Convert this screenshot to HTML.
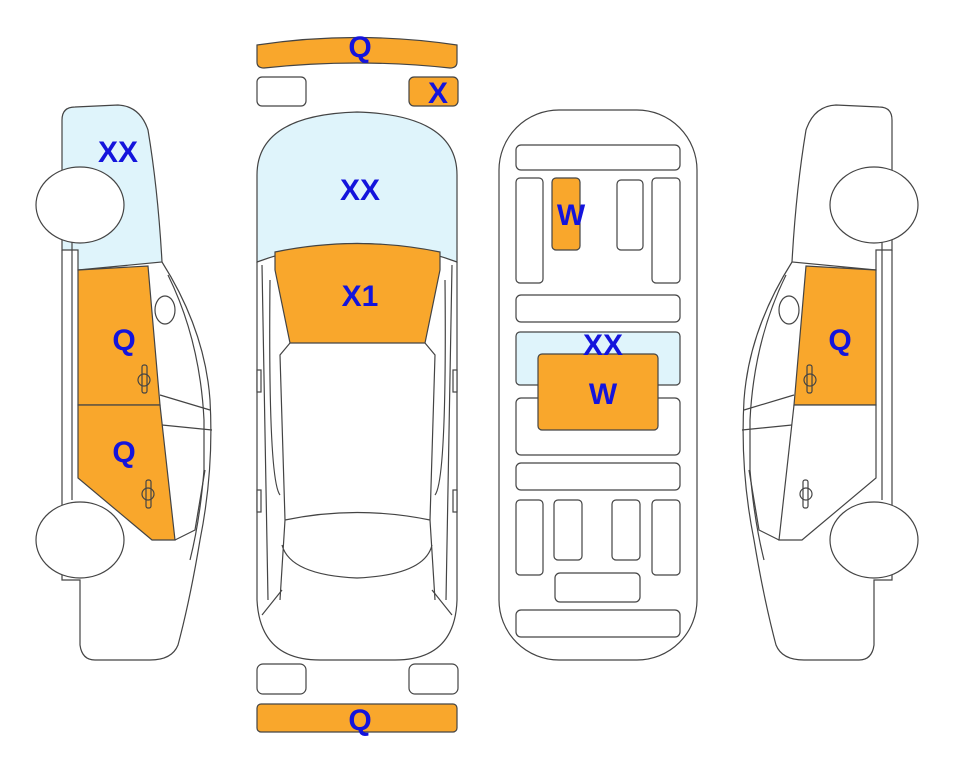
<!DOCTYPE html>
<html><head><style>body{margin:0;background:#fff}svg{display:block}</style></head><body>
<svg width="963" height="768" viewBox="0 0 963 768" xmlns="http://www.w3.org/2000/svg" font-family="Liberation Sans, sans-serif">
<defs>
<g id="side" stroke="#444" stroke-width="1.2">
 <path d="M62,120 Q62,107 75,107 L118,105 Q140,106 148,130 Q158,190 162,262 L78,270 L78,250 L62,250 Z" fill="#dff4fb"/>
 <path d="M162,262 Q205,330 210,400 Q214,470 200,540 Q190,600 178,645 Q172,660 150,660 L95,660 Q82,660 80,645 L80,580 L62,580 L62,250" fill="none"/>
 <path d="M168,275 Q200,340 204,420 L204,470 Q200,520 190,560" fill="none"/>
 <path d="M78,270 L148,266 L160,405 L78,405 Z" fill="#f9a72c"/>
 <path d="M78,405 L160,405 L175,540 L152,540 L78,478 Z" fill="#f9a72c"/>
 <path d="M72,240 L72,500" fill="none"/>
 <path d="M160,395 L210,410 M162,425 L212,430 M175,540 L195,530 L205,470" fill="none"/>
 <ellipse cx="165" cy="310" rx="10" ry="14" fill="#fff"/>
 <rect x="142" y="365" width="5" height="28" rx="2" fill="none"/><circle cx="144" cy="380" r="6" fill="none"/>
 <rect x="146" y="480" width="5" height="28" rx="2" fill="none"/><circle cx="148" cy="494" r="6" fill="none"/>
 <ellipse cx="80" cy="205" rx="44" ry="38" fill="#fff"/>
 <ellipse cx="80" cy="540" rx="44" ry="38" fill="#fff"/>
</g>
</defs>
<use href="#side"/>
<g transform="translate(954,0) scale(-1,1)">
 <g stroke="#444" stroke-width="1.2">
 <path d="M62,120 Q62,107 75,107 L118,105 Q140,106 148,130 Q158,190 162,262 L78,270 L78,250 L62,250 Z" fill="#fff"/>
 <path d="M162,262 Q205,330 210,400 Q214,470 200,540 Q190,600 178,645 Q172,660 150,660 L95,660 Q82,660 80,645 L80,580 L62,580 L62,250" fill="none"/>
 <path d="M168,275 Q200,340 204,420 L204,470 Q200,520 190,560" fill="none"/>
 <path d="M78,270 L148,266 L160,405 L78,405 Z" fill="#f9a72c"/>
 <path d="M78,405 L160,405 L175,540 L152,540 L78,478 Z" fill="#fff"/>
 <path d="M72,240 L72,500 M160,395 L210,410 M162,425 L212,430 M175,540 L195,530 L205,470" fill="none"/>
 <ellipse cx="165" cy="310" rx="10" ry="14" fill="#fff"/>
 <rect x="142" y="365" width="5" height="28" rx="2" fill="none"/><circle cx="144" cy="380" r="6" fill="none"/>
 <rect x="146" y="480" width="5" height="28" rx="2" fill="none"/><circle cx="148" cy="494" r="6" fill="none"/>
 <ellipse cx="80" cy="205" rx="44" ry="38" fill="#fff"/>
 <ellipse cx="80" cy="540" rx="44" ry="38" fill="#fff"/>
 </g>
</g>
<!-- center car -->
<g stroke="#444" stroke-width="1.2">
 <path d="M257,45 Q357,30 457,45 L457,62 Q457,68 450,68 Q357,58 264,68 Q257,68 257,62 Z" fill="#f9a72c"/>
 <rect x="257" y="77" width="49" height="29" rx="5" fill="#fff"/>
 <rect x="409" y="77" width="49" height="29" rx="5" fill="#f9a72c"/>
 <rect x="257" y="664" width="49" height="30" rx="6" fill="#fff"/>
 <rect x="409" y="664" width="49" height="30" rx="6" fill="#fff"/>
 <rect x="257" y="704" width="200" height="28" rx="4" fill="#f9a72c"/>
 <path d="M257,262 L257,175 Q257,115 357,112 Q457,115 457,175 L457,262 Q357,225 257,262 Z" fill="#dff4fb"/>
 <path d="M257,262 L257,600 Q260,660 320,660 L395,660 Q455,660 457,600 L457,262" fill="none"/>
 <path d="M275,252 Q357,235 440,252 L440,270 L425,343 L290,343 L275,270 Z" fill="#f9a72c"/>
 <path d="M290,343 L280,355 L285,520 L280,600 M425,343 L435,355 L430,520 L435,600 M285,520 Q357,505 430,520 M282,545 Q290,575 357,578 Q425,575 432,545" fill="none"/>
 <path d="M262,265 L268,600 M452,265 L446,600 M270,280 Q268,480 280,495 M445,280 Q447,480 435,495 M262,615 L282,590 M452,615 L432,590" fill="none"/>
 <rect x="257" y="370" width="4" height="22" fill="#fff"/><rect x="453" y="370" width="4" height="22" fill="#fff"/>
 <rect x="257" y="490" width="4" height="22" fill="#fff"/><rect x="453" y="490" width="4" height="22" fill="#fff"/>
</g>
<!-- underbody -->
<g stroke="#444" stroke-width="1.2" fill="#fff">
 <rect x="499" y="110" width="198" height="550" rx="60"/>
 <rect x="516" y="145" width="164" height="25" rx="5"/>
 <rect x="516" y="178" width="27" height="105" rx="4"/>
 <rect x="552" y="178" width="28" height="72" rx="4" fill="#f9a72c"/>
 <rect x="617" y="180" width="26" height="70" rx="4"/>
 <rect x="652" y="178" width="28" height="105" rx="4"/>
 <rect x="516" y="295" width="164" height="27" rx="5"/>
 <rect x="516" y="332" width="164" height="53" rx="4" fill="#dff4fb"/>
 <rect x="516" y="398" width="164" height="57" rx="5"/>
 <rect x="538" y="354" width="120" height="76" rx="4" fill="#f9a72c"/>
 <rect x="516" y="463" width="164" height="27" rx="5"/>
 <rect x="516" y="500" width="27" height="75" rx="4"/>
 <rect x="554" y="500" width="28" height="60" rx="4"/>
 <rect x="612" y="500" width="28" height="60" rx="4"/>
 <rect x="652" y="500" width="28" height="75" rx="4"/>
 <rect x="555" y="573" width="85" height="29" rx="5"/>
 <rect x="516" y="610" width="164" height="27" rx="5"/>
</g>
<g fill="#1414dc" font-weight="bold" font-size="30" text-anchor="middle">
 <text x="118" y="162">XX</text>
 <text x="124" y="350">Q</text>
 <text x="124" y="462">Q</text>
 <text x="360" y="57">Q</text>
 <text x="438" y="103">X</text>
 <text x="360" y="200">XX</text>
 <text x="360" y="306">X1</text>
 <text x="360" y="730">Q</text>
 <text x="571" y="225">W</text>
 <text x="603" y="355">XX</text>
 <text x="603" y="404">W</text>
 <text x="840" y="350">Q</text>
</g>
</svg>
</body></html>
